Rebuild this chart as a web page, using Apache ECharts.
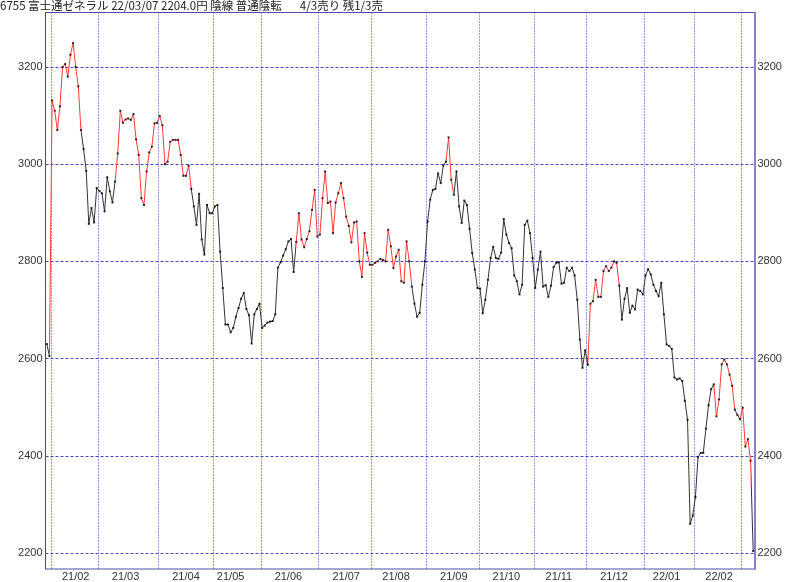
<!DOCTYPE html>
<html>
<head>
<meta charset="utf-8">
<script src="https://cdn.jsdelivr.net/npm/echarts/dist/echarts.min.js"></script>
<style>
html,body{margin:0;padding:0;background:#fff;}
#chart{width:800px;height:582px;}
</style>
</head>
<body>
<div id="chart"></div>
<script>
// ---- data ----
const titleText = '6755 富士通ゼネラル 22/03/07 2204.0円 陰線 普通陰転       4/3売り 残1/3売';
const monthLabels = ['21/01','21/02','21/03','21/04','21/05','21/06','21/07','21/08','21/09','21/10','21/11','21/12','22/01','22/02','22/03'];
const tradingDays = [2,18,23,21,18,22,20,21,20,21,20,22,19,18,5];
// trading-day offset (inside each month) where the month label sits; -1 = no label
const labelDay = [-1,9,10,10,6,10,10,9,10,10,9,10,8,9,-1];
const closes = [
  2630,2605,3131,3110,3070,3119,3200,3206,3180,3225,3249,3200,3160,3070,3031,2986,
  2877,2910,2880,2951,2945,2940,2903,2973,2944,2921,2964,3022,3110,3085,3092,3094,
  3091,3103,3051,3019,2930,2916,2985,3024,3036,3084,3085,3099,3080,3000,3005,3046,
  3050,3050,3050,3019,2976,2976,2997,2949,2913,2875,2939,2845,2814,2916,2899,2899,
  2913,2916,2820,2745,2670,2670,2654,2663,2686,2704,2723,2735,2702,2689,2631,2691,
  2702,2713,2663,2668,2674,2676,2677,2691,2787,2798,2812,2825,2841,2846,2778,2840,
  2899,2845,2829,2846,2862,2906,2947,2851,2855,2930,2985,2920,2923,2858,2921,2940,
  2961,2930,2892,2873,2839,2880,2882,2800,2768,2858,2818,2793,2793,2797,2800,2805,
  2803,2800,2865,2831,2786,2810,2824,2759,2756,2841,2800,2748,2713,2686,2694,2752,
  2800,2882,2927,2947,2949,2981,2961,2997,3005,3055,2968,2937,2985,2913,2879,2925,
  2916,2867,2817,2783,2745,2744,2693,2721,2762,2807,2830,2807,2805,2818,2887,2855,
  2838,2827,2771,2759,2732,2752,2875,2884,2858,2807,2745,2783,2820,2748,2751,2727,
  2750,2788,2797,2798,2754,2756,2787,2780,2787,2771,2721,2639,2581,2617,2587,2713,
  2718,2762,2727,2727,2780,2790,2780,2787,2800,2797,2750,2680,2723,2745,2694,2709,
  2701,2742,2739,2732,2771,2784,2773,2752,2739,2728,2756,2691,2629,2626,2620,2561,
  2557,2559,2554,2513,2474,2260,2277,2315,2397,2406,2406,2456,2504,2537,2547,2481,
  2516,2588,2598,2588,2567,2544,2495,2484,2475,2499,2419,2434,2390,2204
];
// index spans (from point a to point b) drawn in red
const redSpans = [[1,13],[26,55],[95,139],[152,155],[206,218],[254,262],[264,268]];
const yMin = 2167, yMax = 3312;

// ---- build ----
const cats = [], monthOf = [], dayOf = [];
tradingDays.forEach(function(n, m){
  for (let d = 0; d < n; d++) { cats.push(monthLabels[m] + '-' + (d + 1)); monthOf.push(m); dayOf.push(d); }
});

const labelFont = {fontSize: 11, color: '#333', fontFamily: 'Liberation Sans'};
const plain = function(v){ return String(v); };
const chart = echarts.init(document.getElementById('chart'), null, {renderer: 'canvas'});
chart.setOption({
  animation: false,
  backgroundColor: '#fff',
  title: {
    text: titleText, left: 0, top: 0, padding: 0,
    textStyle: {fontSize: 11.5, fontWeight: 'normal', color: '#222', fontFamily: 'Noto Sans CJK JP'}
  },
  grid: {left: 45.5, right: 45.5, top: 12.5, bottom: 11.5, show: true, borderColor: '#4c4cac', borderWidth: 1},
  xAxis: {
    type: 'category', data: cats, boundaryGap: true,
    axisLine: {show: false}, axisTick: {show: false},
    axisLabel: Object.assign({
      interval: function(i){ return dayOf[i] === labelDay[monthOf[i]]; },
      formatter: function(v){ return v.split('-')[0]; },
      margin: 2
    }, labelFont),
    splitLine: {show: true, interval: function(i){ return i > 0 && dayOf[i] === 0; },
      lineStyle: {color: '#3a3ac0', type: [1, 2], width: 1}}
  },
  yAxis: [
    {type: 'value', min: yMin, max: yMax, position: 'left', splitNumber: 5,
     axisLine: {show: true, lineStyle: {color: '#4545a8', width: 1}}, axisTick: {show: false},
     axisLabel: Object.assign({showMinLabel: false, showMaxLabel: false, margin: 3, formatter: plain}, labelFont),
     splitLine: {show: true, showMinLine: false, showMaxLine: false, lineStyle: {color: '#4848b8', type: [3, 2], width: 1}}},
    {type: 'value', min: yMin, max: yMax, position: 'right', splitNumber: 5,
     axisLine: {show: true, lineStyle: {color: '#8282c8', width: 2}}, axisTick: {show: false},
     axisLabel: Object.assign({showMinLabel: false, showMaxLabel: false, margin: 3, formatter: plain}, labelFont),
     splitLine: {show: false}}
  ],
  visualMap: {
    show: false, type: 'piecewise', dimension: 0, seriesIndex: 0,
    pieces: redSpans.map(function(s){ return {gte: s[0], lte: s[1], color: '#ff3a3a'}; }),
    outOfRange: {color: '#333333'}
  },
  series: [
    {type: 'line', data: closes, symbol: 'none', lineStyle: {width: 1}, z: 2},
    {type: 'scatter', data: closes, symbol: 'rect', symbolSize: 2, itemStyle: {color: '#000'}, silent: true, z: 3}
  ]
});
</script>
</body>
</html>
